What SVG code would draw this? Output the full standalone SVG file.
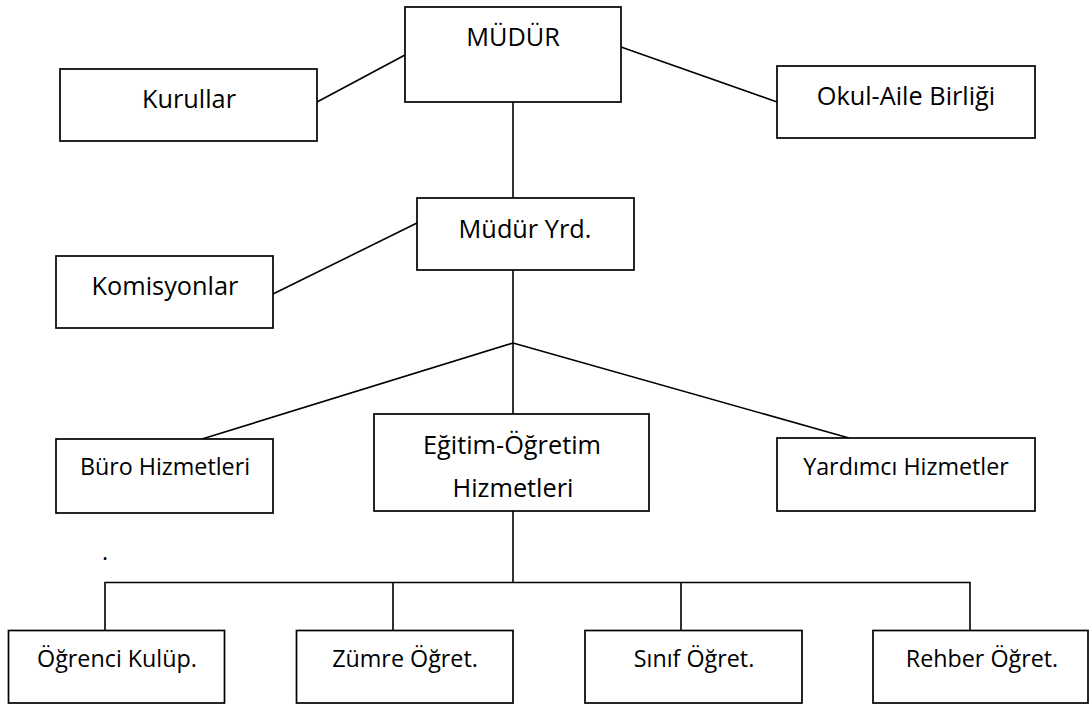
<svg xmlns="http://www.w3.org/2000/svg" width="1089" height="704" viewBox="0 0 1089 704">
<style>
.box{fill:#fff;stroke:#000;stroke-width:1.7}
.con line,.con path{stroke:#000;stroke-width:1.6;fill:none}
text{font-family:"Open Sans","Noto Sans",sans-serif;fill:#000;text-anchor:middle}
.big{font-size:25.3px}
.sm{font-size:23.3px}
</style>
<rect width="1089" height="704" fill="#fff"/>
<g id="connectors" class="con">
<line x1="317" y1="102" x2="405" y2="55"/>
<line x1="621" y1="47" x2="777" y2="102"/>
<line x1="513" y1="102" x2="513" y2="198"/>
<line x1="273" y1="294" x2="417" y2="223"/>
<line x1="513" y1="270" x2="513" y2="414"/>
<line x1="513" y1="343" x2="202" y2="439"/>
<line x1="513" y1="343" x2="849" y2="438"/>
<line x1="513" y1="511" x2="513" y2="582.5"/>
<path d="M105 630.5V582.5H970V630.5M393 582.5V630.5M681 582.5V630.5"/>
</g>
<g id="mudur"><rect class="box" x="405" y="7" width="216" height="95"/><text class="big" x="513" y="46">MÜDÜR</text></g>
<g id="kurullar"><rect class="box" x="60" y="69" width="257" height="72"/><text class="big" x="189" y="108">Kurullar</text></g>
<g id="okul-aile"><rect class="box" x="777" y="66" width="258" height="72"/><text class="big" x="906" y="105">Okul-Aile Birliği</text></g>
<g id="mudur-yrd"><rect class="box" x="417" y="198" width="217" height="72"/><text class="big" x="525" y="238">Müdür Yrd.</text></g>
<g id="komisyonlar"><rect class="box" x="56" y="256" width="217" height="72"/><text class="big" x="165" y="295">Komisyonlar</text></g>
<g id="buro"><rect class="box" x="56" y="439" width="217" height="74"/><text class="sm" x="165" y="475">Büro Hizmetleri</text></g>
<g id="egitim"><rect class="box" x="374" y="414" width="275" height="97"/><text class="big" x="512" y="454">Eğitim-Öğretim</text><text class="big" x="513" y="497">Hizmetleri</text></g>
<g id="yardimci"><rect class="box" x="777" y="438" width="258" height="73"/><text class="sm" x="906" y="475">Yardımcı Hizmetler</text></g>
<g id="ogrenci"><rect class="box" x="8.5" y="630.5" width="216" height="72.5"/><text class="sm" x="117" y="667">Öğrenci Kulüp.</text></g>
<g id="zumre"><rect class="box" x="296.5" y="630.5" width="216.5" height="72.5"/><text class="sm" x="405" y="667">Zümre Öğret.</text></g>
<g id="sinif"><rect class="box" x="585" y="630.5" width="217" height="72.5"/><text class="sm" x="694" y="667">Sınıf Öğret.</text></g>
<g id="rehber"><rect class="box" x="873" y="630.5" width="215" height="72.5"/><text class="sm" x="982" y="667">Rehber Öğret.</text></g>
<text class="sm" x="105" y="560">.</text>
</svg>
